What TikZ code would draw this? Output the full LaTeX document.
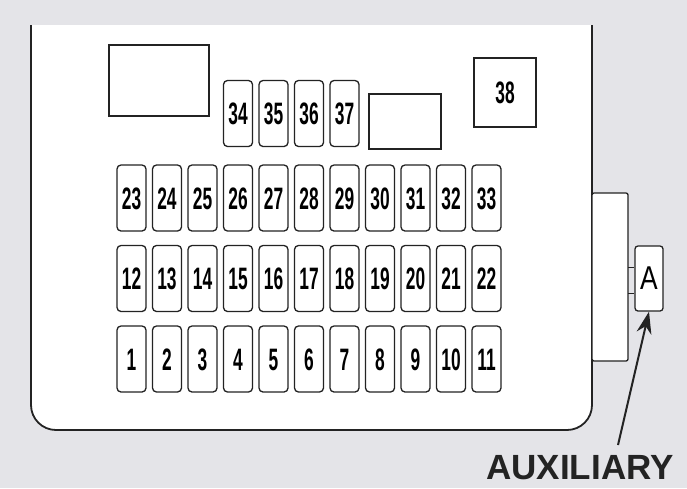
\documentclass[tikz,border=0pt]{standalone}
\usepackage{fontspec}
\setmainfont{Liberation Sans}
\newfontfamily\fusefont[FakeStretch=0.56]{Liberation Sans Bold}
\newfontfamily\plugfont[FakeStretch=0.8]{Liberation Sans}
\usetikzlibrary{arrows.meta}
\definecolor{bggray}{RGB}{228,228,232}
\definecolor{ink}{RGB}{35,35,35}
\tikzset{
  fuse/.style={draw=ink,fill=white,line width=1.3pt,rounded corners=4pt,
    minimum width=29pt,minimum height=66pt,inner sep=0pt,
    text height=22pt,text depth=0pt,
    font=\fusefont\fontsize{31}{31}\selectfont},
  relay/.style={draw=ink,fill=white,line width=1.2pt,inner sep=0pt},
}
\begin{document}
\begin{tikzpicture}[x=1pt,y=-1pt]
  \fill[bggray] (0,0) rectangle (687,488);
  \useasboundingbox (0,0) rectangle (687,488);
  % panel
  \draw[ink,fill=white,line width=1.8pt]
    (31,25) -- (31,405) arc[start angle=180,end angle=90,radius=25]
    -- (567,430) arc[start angle=90,end angle=0,radius=25] -- (592,25);
  % relays
  \node[relay,minimum width=100pt,minimum height=71pt] (r1) at (159,80.5) {};
  \node[relay,minimum width=72pt,minimum height=55pt] (r2) at (405,121.5) {};
  \node[relay,line width=2pt,minimum width=62pt,minimum height=69pt,
    text height=22pt,text depth=0pt,
    font=\fusefont\fontsize{31}{31}\selectfont] (f38) at (505,92.5) {38};
  % fuses
  \foreach \n [count=\i from 0] in {1,...,11}
    \node[fuse] (f\n) at (131.5+35.5*\i,359) {\n};
  \foreach \n [count=\i from 0] in {12,...,22}
    \node[fuse] (f\n) at (131.5+35.5*\i,278.5) {\n};
  \foreach \n [count=\i from 0] in {23,...,33}
    \node[fuse] (f\n) at (131.5+35.5*\i,198) {\n};
  \foreach \n [count=\i from 3] in {34,...,37}
    \node[fuse] (f\n) at (131.5+35.5*\i,113.5) {\n};
  % auxiliary box
  \node[draw=ink,fill=white,line width=1.3pt,rounded corners=2pt,
    minimum width=36pt,minimum height=168pt,inner sep=0pt] (conn) at (610,277) {};
  \node[draw=ink,fill=white,line width=1.3pt,rounded corners=3pt,
    minimum width=28pt,minimum height=65pt,inner sep=0pt,
    font=\plugfont\fontsize{33}{33}\selectfont] (boxA) at (649,278.5) {A};
  \draw[ink,line width=1pt] (628,267) -- (boxA.west |- 0,267);
  \draw[ink,line width=1pt] (628,293) -- (boxA.west |- 0,293);
  \node[font=\bfseries\fontsize{35}{35}\selectfont,text=ink,inner sep=0pt,anchor=base]
    (aux) at (580,479) {AUXILIARY};
  \coordinate (tail) at (618,445);
  \draw[ink,line width=2pt,-{Stealth[length=22pt,width=15pt]}] (tail) -- (boxA.south);
\end{tikzpicture}
\end{document}
